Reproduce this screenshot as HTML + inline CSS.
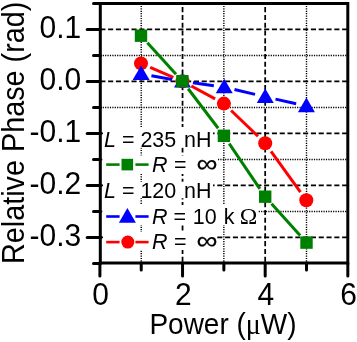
<!DOCTYPE html>
<html><head><meta charset="utf-8"><title>Relative Phase vs Power</title>
<style>html,body{margin:0;padding:0;background:#fff}svg{display:block}text{font-family:"Liberation Sans",Arial,sans-serif;fill:#000}.i{font-style:italic}.s{font-family:"Liberation Serif","DejaVu Serif",serif}</style></head><body>
<svg width="357" height="342" viewBox="0 0 357 342">
<rect width="357" height="342" fill="#fff"/>
<g stroke="#000" stroke-width="1.4" stroke-dasharray="1.2 1.2" fill="none">
<line x1="141.22" y1="3.5" x2="141.22" y2="263.0"/>
<line x1="223.86" y1="3.5" x2="223.86" y2="263.0"/>
<line x1="306.50" y1="3.5" x2="306.50" y2="263.0"/>
<line x1="100.3" y1="55.45" x2="347.8" y2="55.45"/>
<line x1="100.3" y1="107.45" x2="347.8" y2="107.45"/>
<line x1="100.3" y1="159.45" x2="347.8" y2="159.45"/>
<line x1="100.3" y1="211.45" x2="347.8" y2="211.45"/>
</g>
<g stroke="#000" stroke-width="1.75" stroke-dasharray="5.1 2.7" fill="none">
<line x1="182.54" y1="3.5" x2="182.54" y2="263.0" stroke-dashoffset="-3.6"/>
<line x1="265.18" y1="3.5" x2="265.18" y2="263.0" stroke-dashoffset="-3.6"/>
<line x1="100.3" y1="29.45" x2="347.8" y2="29.45"/>
<line x1="100.3" y1="81.45" x2="347.8" y2="81.45"/>
<line x1="100.3" y1="133.45" x2="347.8" y2="133.45"/>
<line x1="100.3" y1="185.45" x2="347.8" y2="185.45"/>
<line x1="100.3" y1="237.45" x2="347.8" y2="237.45"/>
</g>
<g stroke="#ff0000" stroke-width="3" stroke-linecap="butt" fill="none">
<line x1="150.18" y1="67.36" x2="173.32" y2="77.34"/>
<line x1="191.30" y1="86.04" x2="215.10" y2="98.86"/>
<line x1="231.12" y1="110.52" x2="257.98" y2="136.28"/>
<line x1="271.04" y1="151.32" x2="300.46" y2="192.18"/>
</g>
<g fill="#ff0000" stroke="none">
<circle cx="141.00" cy="63.40" r="7"/>
<circle cx="182.50" cy="81.30" r="7"/>
<circle cx="223.90" cy="103.60" r="7"/>
<circle cx="265.20" cy="143.20" r="7"/>
<circle cx="306.30" cy="200.30" r="7"/>
</g>
<g stroke="#0000ff" stroke-width="3" stroke-linecap="butt" fill="none">
<line x1="151.43" y1="75.67" x2="172.17" y2="79.43"/>
<line x1="192.90" y1="82.74" x2="213.85" y2="85.66"/>
<line x1="234.47" y1="89.52" x2="255.03" y2="94.38"/>
<line x1="275.50" y1="99.09" x2="296.15" y2="103.71"/>
</g>
<g fill="#0000ff" stroke="none">
<path d="M141.10 65.40L149.60 80.00L132.60 80.00Z"/>
<path d="M182.50 72.90L191.00 87.50L174.00 87.50Z"/>
<path d="M224.25 78.70L232.75 93.30L215.75 93.30Z"/>
<path d="M265.25 88.40L273.75 103.00L256.75 103.00Z"/>
<path d="M306.40 97.60L314.90 112.20L297.90 112.20Z"/>
</g>
<g stroke="#008000" stroke-width="3" stroke-linecap="butt" fill="none">
<line x1="147.39" y1="42.73" x2="176.01" y2="74.17"/>
<line x1="188.15" y1="88.76" x2="218.15" y2="128.24"/>
<line x1="229.23" y1="143.66" x2="259.87" y2="188.84"/>
<line x1="271.55" y1="203.76" x2="300.15" y2="235.54"/>
</g>
<g fill="#008000" stroke="none">
<rect x="134.80" y="29.50" width="12.4" height="12.4"/>
<rect x="176.20" y="75.00" width="12.4" height="12.4"/>
<rect x="217.70" y="129.60" width="12.4" height="12.4"/>
<rect x="259.00" y="190.50" width="12.4" height="12.4"/>
<rect x="300.30" y="236.40" width="12.4" height="12.4"/>
</g>
<rect x="103" y="127" width="110" height="20.7" fill="#fff"/>
<rect x="103" y="155.5" width="115" height="18.5" fill="#fff"/>
<rect x="103" y="181.7" width="110" height="16.5" fill="#fff"/>
<rect x="103" y="205" width="155" height="20" fill="#fff"/>
<rect x="103" y="232" width="113.5" height="18" fill="#fff"/>
<g stroke="#008000" stroke-width="2.6"><line x1="106.2" y1="164.6" x2="119.6" y2="164.6"/><line x1="135.4" y1="164.6" x2="148.6" y2="164.6"/></g>
<g fill="#008000">
<rect x="121.50" y="158.80" width="11.6" height="11.6"/>
</g>
<g stroke="#0000ff" stroke-width="2.6"><line x1="106.2" y1="216.5" x2="119.6" y2="216.5"/><line x1="135.4" y1="216.5" x2="148.6" y2="216.5"/></g>
<g fill="#0000ff">
<path d="M127.40 208.10L135.90 222.70L118.90 222.70Z"/>
</g>
<g stroke="#ff0000" stroke-width="2.6"><line x1="106.2" y1="242.1" x2="119.6" y2="242.1"/><line x1="135.4" y1="242.1" x2="148.6" y2="242.1"/></g>
<g fill="#ff0000">
<circle cx="127.8" cy="242.1" r="6.5"/>
</g>
<g font-size="21.5px">
<text transform="translate(104 146.8) scale(1 1.045)"><tspan class="i">L</tspan> = 235 <tspan dx="1.8">nH</tspan></text>
<text transform="translate(152 172) scale(1 1.045)"><tspan class="i">R</tspan> <tspan dx="0.6">=</tspan></text>
<text transform="translate(196.6 172.0) scale(1.09 0.93)" font-size="27px" stroke="#000" stroke-width="0.2">∞</text>
<text transform="translate(104 198.3) scale(1 1.045)"><tspan class="i">L</tspan> = 120 <tspan dx="1.8">nH</tspan></text>
<text transform="translate(152 223.5) scale(1 1.045)"><tspan class="i">R</tspan> = <tspan dx="0.7">10</tspan> <tspan dx="1.3">k</tspan></text>
<text transform="translate(239.8 224) scale(1.1 1.06)" class="s">Ω</text>
<text transform="translate(152 249.2) scale(1 1.045)"><tspan class="i">R</tspan> <tspan dx="0.6">=</tspan></text>
<text transform="translate(196.6 249.3) scale(1.09 0.93)" font-size="27px" stroke="#000" stroke-width="0.2">∞</text>
</g>
<rect x="100.3" y="3.5" width="247.50" height="259.50" fill="none" stroke="#000" stroke-width="3"/>
<g stroke="#000" stroke-width="3" stroke-linecap="round">
<line x1="99.90" y1="263.0" x2="99.90" y2="276"/>
<line x1="182.54" y1="263.0" x2="182.54" y2="276"/>
<line x1="265.18" y1="263.0" x2="265.18" y2="276"/>
<line x1="347.82" y1="263.0" x2="347.82" y2="276"/>
<line x1="141.22" y1="263.0" x2="141.22" y2="270"/>
<line x1="223.86" y1="263.0" x2="223.86" y2="270"/>
<line x1="306.50" y1="263.0" x2="306.50" y2="270"/>
<line x1="100.3" y1="29.45" x2="87.2" y2="29.45"/>
<line x1="100.3" y1="81.45" x2="87.2" y2="81.45"/>
<line x1="100.3" y1="133.45" x2="87.2" y2="133.45"/>
<line x1="100.3" y1="185.45" x2="87.2" y2="185.45"/>
<line x1="100.3" y1="237.45" x2="87.2" y2="237.45"/>
<line x1="100.3" y1="3.45" x2="93.5" y2="3.45"/>
<line x1="100.3" y1="55.45" x2="93.5" y2="55.45"/>
<line x1="100.3" y1="107.45" x2="93.5" y2="107.45"/>
<line x1="100.3" y1="159.45" x2="93.5" y2="159.45"/>
<line x1="100.3" y1="211.45" x2="93.5" y2="211.45"/>
<line x1="100.3" y1="263.45" x2="93.5" y2="263.45"/>
</g>
<g font-size="30px" text-anchor="middle">
<text transform="translate(100.60 305.1) scale(1 1.045)">0</text>
<text transform="translate(183.24 305.1) scale(1 1.045)">2</text>
<text transform="translate(265.88 305.1) scale(1 1.045)">4</text>
<text transform="translate(348.52 305.1) scale(1 1.045)">6</text>
</g>
<g font-size="30px" text-anchor="end">
<text transform="translate(81.2 37.55) scale(1 1.045)">0.1</text>
<text transform="translate(81.2 89.55) scale(1 1.045)">0.0</text>
<text transform="translate(81.2 141.55) scale(1 1.045)">-0.1</text>
<text transform="translate(81.2 193.55) scale(1 1.045)">-0.2</text>
<text transform="translate(81.2 245.55) scale(1 1.045)">-0.3</text>
</g>
<text transform="translate(149.4 333.7) scale(1 1.07)" font-size="28px">Power (<tspan class="s">μ</tspan>W)</text>
<text transform="translate(23.9 264) rotate(-90) scale(1 1.06)" font-size="28.8px">Relative Phase (rad)</text>
</svg></body></html>
